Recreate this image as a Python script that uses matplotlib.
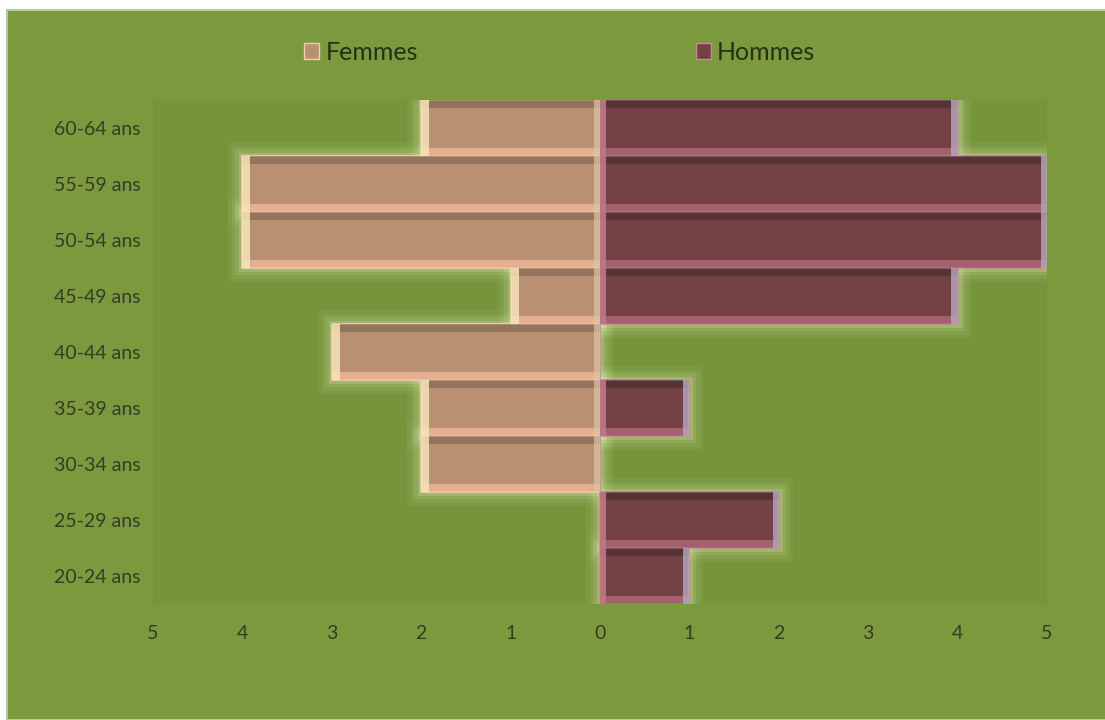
import matplotlib
matplotlib.use('Agg')
import matplotlib.pyplot as plt
import numpy as np
from matplotlib.patches import Rectangle, Patch

plt.rcParams['font.family'] = ['Lato', 'DejaVu Sans']

ages = ['20-24 ans', '25-29 ans', '30-34 ans', '35-39 ans', '40-44 ans',
        '45-49 ans', '50-54 ans', '55-59 ans', '60-64 ans']
femmes = [0, 0, 2, 2, 3, 1, 4, 4, 2]
hommes = [1, 2, 0, 1, 0, 4, 5, 5, 4]
xticks = [-5, -4, -3, -2, -1, 0, 1, 2, 3, 4, 5]

bg = '#7b9a3d'
plot_bg = '#76953a'
f_col = '#ba9073'
h_col = '#744244'
txt = '#373a27'

fig = plt.figure(figsize=(11.05, 7.2), dpi=100, facecolor='white')
fig.patches.append(Rectangle((7 / 1105, 0), 1, 1 - 10 / 720, transform=fig.transFigure,
                             facecolor=bg, edgecolor='#b7c89a', linewidth=1.5, zorder=-10))

ax = fig.add_axes([153 / 1105, 1 - 604 / 720, 894 / 1105, 504 / 720])
ax.set_facecolor(plot_bg)

y = np.arange(len(ages))
fv = -np.array(femmes)
hv = np.array(hommes)

# soft glow behind bars
for lw, a in [(20, 0.05), (15, 0.08), (10, 0.12), (5, 0.2)]:
    for vals in (fv, hv):
        m = vals != 0
        ax.barh(y[m], vals[m], height=1.0, color='#e4efc0', edgecolor='#e4efc0',
                linewidth=lw, alpha=a, zorder=1)

# main bars
ax.barh(y, fv, height=1.0, color=f_col, edgecolor='#f3cfae', linewidth=1.2, zorder=3, label='Femmes')
ax.barh(y, hv, height=1.0, color=h_col, edgecolor='#c88a96', linewidth=1.2, zorder=3, label='Hommes')

# bevel strips
bv = 0.14
ax.barh(y + 0.5 - bv / 2, fv, height=bv, color='#6f5a42', alpha=0.5, linewidth=0, zorder=4)
ax.barh(y - 0.5 + bv / 2, fv, height=bv, color='#f2b89a', alpha=0.8, linewidth=0, zorder=4)
ax.barh(y + 0.5 - bv / 2, hv, height=bv, color='#3e2628', alpha=0.5, linewidth=0, zorder=4)
ax.barh(y - 0.5 + bv / 2, hv, height=bv, color='#b06878', alpha=0.8, linewidth=0, zorder=4)
for yi, f, h in zip(y, fv, hv):
    if f != 0:
        ax.barh(yi, 0.09, left=f, height=1.0, color='#f7e6b8', alpha=0.85, linewidth=0, zorder=4)
        ax.barh(yi, -0.07, left=0, height=1.0, color='#dcc4a8', alpha=0.7, linewidth=0, zorder=4)
    if h != 0:
        ax.barh(yi, 0.07, left=0, height=1.0, color='#c07888', alpha=0.9, linewidth=0, zorder=4)
        ax.barh(yi, -0.07, left=h, height=1.0, color='#b8a8c0', alpha=0.8, linewidth=0, zorder=4)

ax.set_xlim(-5, 5)
ax.set_ylim(-0.5, len(ages) - 0.5)
ax.set_yticks(y)
ax.set_yticklabels(ages, color=txt, fontsize=14)
ax.set_xticks(xticks)
ax.set_xticklabels([str(abs(t)) for t in xticks], color=txt, fontsize=14)
ax.tick_params(axis='both', length=0)
ax.tick_params(axis='x', pad=15)
ax.tick_params(axis='y', pad=9)
for s in ax.spines.values():
    s.set_visible(False)

handles = [Patch(facecolor=f_col, edgecolor='#f3cfae'), Patch(facecolor=h_col, edgecolor='#c88a96')]
leg = fig.legend(handles, ['Femmes', 'Hommes'], loc='center', bbox_to_anchor=(0.5065, 1 - 52 / 720),
                 ncol=2, frameon=False, fontsize=18, handlelength=0.6, handleheight=0.6,
                 handletextpad=0.25, columnspacing=11.1)
for t in leg.get_texts():
    t.set_color('#263015')

fig.savefig('out.png', dpi=100, facecolor='white')
